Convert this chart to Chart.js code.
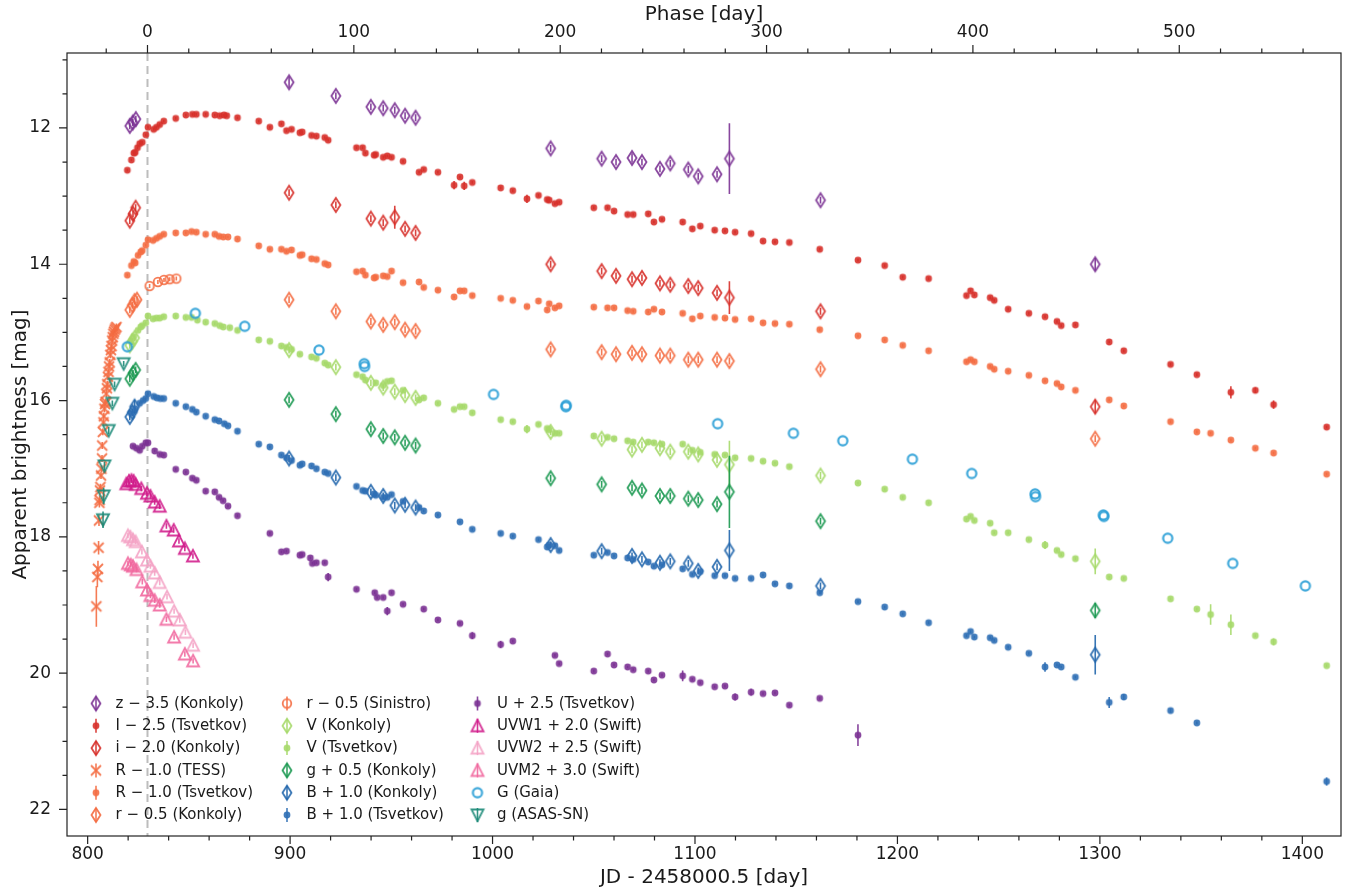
<!DOCTYPE html>
<html>
<head>
<meta charset="utf-8">
<title>Multi-band light curve</title>
<script src="https://cdn.jsdelivr.net/npm/chart.js@4.4.1/dist/chart.umd.min.js"></script>
<style>
  html, body { margin: 0; padding: 0; background: #fff; }
  #wrap { width: 1354px; height: 895px; }
</style>
</head>
<body>
<div id="wrap"><canvas id="lc" width="1354" height="895"></canvas></div>
<script>
// === Axes ===
const jdMin = 789.8, jdMax = 1419.1;
const magTop = 10.9, magBottom = 22.39;
const peakJD = 829.56;   // phase zero
const stretch = 1.0193;  // 1 + z, rest-frame phase
const jdTicks = [800, 900, 1000, 1100, 1200, 1300, 1400];
const phaseTicks = [0, 100, 200, 300, 400, 500];
const magTicks = [12, 14, 16, 18, 20, 22];

// === Photometry: [JD - 2458000.5, mag, error] ===
const zKonkoly = [[820.8,11.97],[822.3,11.92],[823.8,11.87],[899.5,11.33,0.08],[922.6,11.53],[939.9,11.69],[946.0,11.71],[951.7,11.74],[956.8,11.82],[962.0,11.85],[1028.7,12.30],[1053.9,12.45],[1061.0,12.50],[1068.9,12.44,0.07],[1073.8,12.50],[1082.7,12.60],[1087.8,12.52],[1096.7,12.61],[1101.6,12.71],[1110.9,12.68],[1117.0,12.45,0.52],[1162.0,13.06],[1297.7,14.00,0.09]];

const iTsvetkov = [[819.6,12.62],[821.6,12.47],[822.8,12.37],[823.5,12.36],[824.6,12.29],[825.7,12.23],[827.0,12.21],[828.7,12.10],[829.8,11.99],[832.6,12.02],[834.0,11.99],[835.6,11.95],[837.6,11.90],[843.5,11.86],[848.5,11.81],[851.7,11.80],[853.7,11.80],[858.3,11.80],[862.8,11.81],[865.2,11.82],[867.3,11.81],[868.7,11.82],[874.0,11.85],[884.5,11.90],[890.0,11.99],[895.7,11.94],[898.2,12.04],[900.7,12.02],[904.8,12.07],[906.0,12.06],[910.6,12.11],[913.0,12.12],[917.1,12.14],[918.8,12.18],[932.8,12.29],[935.8,12.29],[937.2,12.37],[941.5,12.40],[942.3,12.39],[946.0,12.43],[948.0,12.41],[950.1,12.43],[955.8,12.49],[963.7,12.65],[966.0,12.61],[973.0,12.65],[981.0,12.84,0.06],[983.9,12.72],[986.0,12.85,0.06],[990.0,12.80],[1004.0,12.88],[1010.0,12.92],[1017.0,13.04,0.06],[1022.7,12.99],[1027.0,13.05],[1028.0,13.06],[1030.8,13.11],[1032.9,13.09],[1050.0,13.17],[1056.8,13.17],[1060.0,13.22],[1066.7,13.27],[1069.5,13.27],[1076.9,13.26],[1079.7,13.38],[1083.7,13.34],[1093.9,13.38],[1098.7,13.48],[1102.6,13.44],[1109.7,13.50],[1114.8,13.51],[1119.8,13.53],[1127.7,13.55],[1133.6,13.66],[1139.5,13.67],[1146.6,13.68],[1161.6,13.78],[1180.5,13.94],[1193.7,14.02],[1202.6,14.19],[1215.4,14.21],[1234.1,14.46],[1236.1,14.39],[1238.0,14.45],[1245.8,14.49],[1247.8,14.53],[1254.7,14.66],[1264.9,14.72],[1272.9,14.77],[1278.8,14.84],[1280.9,14.90],[1287.9,14.89],[1304.6,15.14],[1311.8,15.27],[1334.9,15.47],[1347.9,15.62],[1364.7,15.88,0.09],[1376.8,15.85,0.04],[1385.8,16.06,0.06],[1412.0,16.39]];

const iKonkoly = [[820.8,13.36],[822.4,13.26],[823.7,13.17],[899.5,12.95],[922.6,13.13],[939.9,13.33],[946.0,13.39],[951.7,13.31,0.17],[956.8,13.48],[962.0,13.54],[1028.7,14.00],[1053.9,14.10],[1061.0,14.17],[1068.9,14.22],[1073.8,14.20],[1082.7,14.28],[1087.8,14.30],[1096.7,14.32],[1101.6,14.35],[1110.9,14.42],[1117.0,14.49,0.24],[1162.0,14.69],[1297.7,16.09,0.10]];

const rTess = [[804.3,19.02,0.30],[804.8,18.59,0.15],[805.1,18.47,0.12],[805.4,18.16,0.10],[805.6,17.76,0.08],[805.8,17.50,0.07],[805.9,17.46,0.07],[806.1,17.32,0.06],[806.3,17.27],[806.6,17.10],[806.8,17.00],[807.1,16.85],[807.2,16.66],[807.5,16.46],[807.8,16.32],[808.0,16.23],[808.3,16.12],[808.6,16.05],[808.9,16.02],[809.2,15.90],[809.5,15.82],[809.7,15.76],[810.0,15.65],[810.3,15.58],[810.6,15.50],[810.9,15.44],[811.2,15.33],[811.5,15.26],[811.8,15.20],[812.1,15.12],[812.4,15.07],[812.7,15.02],[813.0,14.99],[813.4,14.96],[813.8,14.94],[814.2,14.92]];

const rTsvetkov = [[819.6,14.16],[821.6,14.02],[822.8,13.96],[823.5,13.98],[824.9,13.87],[826.2,13.82],[827.0,13.80],[828.7,13.72],[829.8,13.64],[832.3,13.65],[834.0,13.62],[835.6,13.59],[837.6,13.56],[843.5,13.54],[848.5,13.54],[851.3,13.52],[853.7,13.53],[858.3,13.56],[862.8,13.56],[864.9,13.59],[867.0,13.60],[869.3,13.60],[874.0,13.63],[884.5,13.73],[890.0,13.78],[895.7,13.78],[898.2,13.81],[900.7,13.79],[904.8,13.87],[906.0,13.86],[910.6,13.92],[913.0,13.93],[917.1,13.99],[918.8,14.01],[932.8,14.11],[935.8,14.10],[937.2,14.16],[941.5,14.20],[942.3,14.19],[946.0,14.17],[948.0,14.18],[950.1,14.10],[955.8,14.27],[963.7,14.26],[966.0,14.34],[973.0,14.38],[981.0,14.48],[983.9,14.39],[986.0,14.39],[990.0,14.46],[1004.0,14.50],[1010.0,14.53],[1017.0,14.62],[1022.7,14.54],[1027.0,14.67],[1028.0,14.58],[1030.8,14.64],[1032.9,14.61],[1050.0,14.63],[1056.8,14.64],[1060.0,14.64],[1066.7,14.68],[1069.5,14.69],[1076.9,14.70],[1079.7,14.66],[1083.7,14.70],[1093.9,14.72],[1098.7,14.80],[1102.6,14.76],[1109.7,14.78],[1114.8,14.79],[1119.8,14.81],[1127.7,14.80],[1133.6,14.86],[1139.5,14.87],[1146.6,14.88],[1161.6,14.96],[1180.5,15.05],[1193.7,15.11],[1202.6,15.19],[1215.4,15.27],[1234.1,15.43],[1236.1,15.40],[1238.0,15.43],[1245.8,15.50],[1247.8,15.54],[1254.7,15.57],[1264.9,15.63],[1272.9,15.71],[1278.8,15.75],[1280.9,15.80],[1287.9,15.85],[1304.6,15.99],[1311.8,16.08],[1334.9,16.31],[1347.9,16.46],[1354.7,16.48],[1364.7,16.58],[1376.8,16.70],[1385.8,16.77],[1412.0,17.08]];

const rKonkoly = [[820.8,14.67],[822.1,14.60],[823.2,14.54],[824.4,14.52],[899.5,14.52],[922.6,14.69],[939.9,14.84],[946.0,14.89],[951.7,14.85],[956.8,14.96],[962.0,14.98],[1028.7,15.25],[1053.9,15.29],[1061.0,15.32],[1068.9,15.30],[1073.8,15.32],[1082.7,15.34],[1087.8,15.34],[1096.7,15.40],[1101.6,15.40],[1110.9,15.40],[1117.0,15.42],[1162.0,15.54],[1297.7,16.56]];

const rSinistro = [[830.6,14.32],[834.7,14.26],[837.7,14.23],[840.5,14.22],[843.8,14.21]];

const vKonkoly = [[820.8,15.19],[822.1,15.13],[823.2,15.08],[899.5,15.26],[922.6,15.51],[939.9,15.74],[946.0,15.81],[951.7,15.87],[956.8,15.92],[962.0,15.96],[1028.7,16.46],[1053.9,16.56],[1068.9,16.72],[1073.8,16.65],[1082.7,16.70],[1087.8,16.75],[1096.7,16.75],[1101.6,16.79],[1110.9,16.87],[1117.0,16.94,0.35],[1162.0,17.10],[1297.7,18.36,0.19]];

const vTsvetkov = [[821.6,15.13],[822.8,15.06],[824.9,14.97],[826.2,14.92],[827.0,14.90],[828.7,14.86],[829.8,14.76],[832.3,14.80],[834.0,14.79],[835.6,14.79],[837.6,14.77],[843.5,14.76],[848.5,14.78],[851.3,14.78],[854.2,14.82],[858.3,14.85],[862.8,14.87],[865.2,14.90],[867.0,14.92],[870.2,14.93],[874.0,14.97],[884.5,15.11],[890.0,15.13],[895.7,15.20],[898.2,15.22],[900.7,15.25],[904.8,15.32],[910.6,15.36],[913.0,15.38],[917.1,15.45],[918.8,15.48],[932.8,15.62],[935.8,15.65],[937.2,15.70],[942.3,15.74],[946.0,15.78],[948.0,15.72],[950.1,15.71],[955.8,15.85],[963.7,15.99],[966.0,15.96],[973.0,16.04],[981.0,16.13],[983.9,16.09],[986.0,16.09],[990.0,16.18],[1004.0,16.28],[1010.0,16.31],[1017.0,16.42,0.06],[1022.7,16.35],[1027.0,16.41],[1028.0,16.43],[1030.8,16.48],[1032.9,16.48],[1050.0,16.52],[1056.8,16.54],[1060.0,16.56],[1066.7,16.59],[1069.5,16.61],[1076.9,16.61],[1079.7,16.62],[1083.7,16.64],[1093.9,16.64],[1098.7,16.73],[1102.6,16.76],[1109.7,16.79],[1114.8,16.80],[1119.8,16.84],[1127.7,16.85],[1133.6,16.89],[1139.5,16.92],[1146.6,16.97],[1180.5,17.21],[1193.7,17.30],[1202.6,17.42],[1215.4,17.50],[1234.1,17.74],[1236.1,17.70],[1238.0,17.76],[1245.8,17.80],[1247.8,17.94],[1254.7,17.94],[1264.9,18.04],[1272.9,18.12,0.06],[1278.8,18.20],[1280.9,18.26],[1287.9,18.32],[1304.6,18.59],[1311.8,18.61],[1334.9,18.91],[1347.9,19.06],[1354.7,19.14,0.15],[1364.7,19.29,0.15],[1376.8,19.45],[1385.8,19.54,0.05],[1412.0,19.89]];

const gKonkoly = [[820.8,15.68],[822.4,15.60],[823.7,15.55],[899.5,15.99],[922.6,16.20],[939.9,16.42],[946.0,16.52],[951.7,16.54],[956.8,16.62],[962.0,16.66],[1028.7,17.14],[1053.9,17.23],[1068.9,17.28],[1073.8,17.32],[1082.7,17.40],[1087.8,17.40],[1096.7,17.44],[1101.6,17.46],[1110.9,17.52],[1117.0,17.34,0.53],[1162.0,17.77],[1297.7,19.08,0.11]];

const bKonkoly = [[820.8,16.24],[822.1,16.17],[823.2,16.09,0.10],[899.5,16.85],[922.6,17.13],[939.9,17.34],[946.0,17.40],[951.7,17.54],[956.8,17.53],[962.0,17.57],[1028.7,18.12],[1053.9,18.21],[1068.9,18.28],[1073.8,18.33],[1082.7,18.38],[1087.8,18.36],[1096.7,18.39],[1101.6,18.50],[1110.9,18.44],[1117.0,18.20,0.30],[1162.0,18.72],[1297.7,19.73,0.29]];

const bTsvetkov = [[821.6,16.19],[823.5,16.12],[825.7,16.04],[827.4,16.00],[828.7,15.97],[829.8,15.90],[832.6,15.94],[834.2,15.96],[835.9,15.97],[837.6,15.97],[843.5,16.04],[848.5,16.09],[851.7,16.13],[853.7,16.17],[858.3,16.23],[862.8,16.28],[864.9,16.30],[867.5,16.34],[869.3,16.37],[874.0,16.45],[884.5,16.64],[890.0,16.68],[895.7,16.80],[898.2,16.84],[900.7,16.88],[904.8,16.95],[906.0,16.93],[910.6,16.96],[913.0,17.00],[917.1,17.05],[918.8,17.07],[932.8,17.26],[935.8,17.32],[937.2,17.33],[941.5,17.37],[942.3,17.39],[946.0,17.42],[948.0,17.42],[950.1,17.38],[955.8,17.48],[963.7,17.57],[966.0,17.62],[973.0,17.68],[983.9,17.78],[990.0,17.89],[1004.0,17.95],[1010.0,17.99],[1022.7,18.04],[1027.0,18.15],[1028.0,18.12],[1030.8,18.13],[1032.9,18.20],[1050.0,18.27],[1056.8,18.23],[1060.0,18.28],[1066.7,18.31],[1069.5,18.33],[1076.9,18.37],[1079.7,18.43],[1083.7,18.41],[1093.9,18.47],[1098.7,18.55],[1102.6,18.51],[1109.7,18.57],[1114.8,18.57],[1119.8,18.61],[1127.7,18.61],[1133.6,18.56],[1139.5,18.69],[1146.6,18.72],[1161.6,18.82],[1180.5,18.95],[1193.7,19.03],[1202.6,19.13],[1215.4,19.26],[1234.1,19.45],[1236.1,19.39],[1238.0,19.47],[1245.8,19.48],[1247.8,19.52],[1254.7,19.62],[1264.9,19.71],[1272.9,19.91,0.07],[1278.8,19.88],[1280.9,19.91],[1287.9,20.06],[1304.6,20.43,0.08],[1311.8,20.35,0.04],[1334.9,20.55,0.03],[1347.9,20.73],[1412.0,21.59,0.06]];

const uTsvetkov = [[822.4,16.67],[824.1,16.70],[825.7,16.73],[827.0,16.67],[828.7,16.62],[829.8,16.62],[833.1,16.74],[835.6,16.79],[837.6,16.80],[843.5,17.01],[848.5,17.05],[851.7,17.14],[853.7,17.17],[858.3,17.33],[862.8,17.34],[864.9,17.42],[866.9,17.47],[869.3,17.55],[874.0,17.69],[890.0,17.95],[895.7,18.22],[898.2,18.21],[904.8,18.27],[906.0,18.26],[910.0,18.31],[911.0,18.39],[913.0,18.38],[917.1,18.38],[918.8,18.59,0.06],[932.8,18.77],[941.8,18.82],[943.0,18.89],[946.0,18.89],[948.0,19.09,0.06],[950.1,18.82],[955.8,18.99],[966.0,19.06],[973.0,19.22],[983.9,19.27],[990.0,19.45,0.05],[1004.0,19.58,0.05],[1010.0,19.53],[1030.8,19.74],[1032.9,19.86],[1050.0,19.97],[1056.8,19.72],[1060.0,19.88],[1066.7,19.91],[1069.5,19.95],[1076.9,19.97],[1079.7,20.10],[1083.7,20.03],[1093.9,20.04,0.08],[1098.7,20.09],[1102.6,20.14],[1109.7,20.20],[1114.8,20.19],[1119.8,20.35,0.05],[1127.7,20.28,0.05],[1133.6,20.30],[1139.5,20.29],[1146.6,20.47],[1161.6,20.37],[1180.5,20.91,0.16]];

const uvw1Swift = [[819.1,17.22],[820.4,17.18],[821.6,17.17],[822.7,17.18],[823.7,17.23],[826.5,17.29],[829.3,17.36],[831.0,17.40],[833.1,17.49],[835.6,17.55],[838.9,17.84],[842.5,17.90],[845.1,18.06],[848.0,18.17],[852.0,18.28]];
const uvw2Swift = [[819.9,17.98],[821.1,18.00],[822.4,18.04],[823.7,18.07],[826.8,18.22],[829.3,18.34],[831.0,18.43],[833.1,18.53],[835.6,18.67],[839.2,18.88],[842.7,19.09],[845.5,19.22],[848.3,19.40],[852.1,19.59]];
const uvm2Swift = [[819.9,18.39],[821.3,18.41],[822.4,18.43],[824.1,18.48],[827.0,18.66],[829.3,18.78],[831.0,18.86],[833.1,18.93],[835.6,19.00],[838.9,19.21],[842.7,19.47],[848.0,19.72],[852.1,19.82]];

const gGaia = [[819.6,15.21],[853.2,14.72],[877.6,14.91],[914.3,15.26],[936.6,15.46],[936.8,15.50],[1000.5,15.91],[1036.2,16.09],[1036.4,16.07],[1111.2,16.34],[1148.6,16.48],[1173.0,16.59],[1207.4,16.86],[1236.7,17.07],[1268.0,17.37],[1268.2,17.41],[1301.7,17.68],[1302.0,17.70],[1333.5,18.02],[1365.6,18.39],[1401.5,18.72]];

const gAsassn = [[807.6,17.75,0.12],[807.9,17.40,0.12],[808.3,16.96,0.06],[810.4,16.44,0.05],[812.2,16.04,0.04],[813.3,15.76,0.04],[817.8,15.46,0.04]];

// === Series styling ===
const series = [
  { label: "z \u2212 3.5 (Konkoly)",   data: zKonkoly,  color: "#7b3294", shape: "diamond", err: 0.05 },
  { label: "I \u2212 2.5 (Tsvetkov)",  data: iTsvetkov, color: "#d7302a", shape: "dot",     err: 0.02 },
  { label: "i \u2212 2.0 (Konkoly)",   data: iKonkoly,  color: "#d7302a", shape: "diamond", err: 0.05 },
  { label: "R \u2212 1.0 (TESS)",      data: rTess,     color: "#f46d43", shape: "cross",   err: 0.05 },
  { label: "R \u2212 1.0 (Tsvetkov)",  data: rTsvetkov, color: "#f46d43", shape: "dot",     err: 0.02 },
  { label: "r \u2212 0.5 (Konkoly)",   data: rKonkoly,  color: "#f46d43", shape: "diamond", err: 0.05 },
  { label: "r \u2212 0.5 (Sinistro)",  data: rSinistro, color: "#f46d43", shape: "ring",    err: 0.03 },
  { label: "V (Konkoly)",              data: vKonkoly,  color: "#a6d96a", shape: "diamond", err: 0.05 },
  { label: "V (Tsvetkov)",             data: vTsvetkov, color: "#a6d96a", shape: "dot",     err: 0.02 },
  { label: "g + 0.5 (Konkoly)",        data: gKonkoly,  color: "#1a9850", shape: "diamond", err: 0.05 },
  { label: "B + 1.0 (Konkoly)",        data: bKonkoly,  color: "#2166ac", shape: "diamond", err: 0.05 },
  { label: "B + 1.0 (Tsvetkov)",       data: bTsvetkov, color: "#2f6fb5", shape: "dot",     err: 0.02 },
  { label: "U + 2.5 (Tsvetkov)",       data: uTsvetkov, color: "#7b3294", shape: "dot",     err: 0.02 },
  { label: "UVW1 + 2.0 (Swift)",       data: uvw1Swift, color: "#d01c8b", shape: "triUp",   err: 0.04 },
  { label: "UVW2 + 2.5 (Swift)",       data: uvw2Swift, color: "#f4a3c5", shape: "triUp",   err: 0.04 },
  { label: "UVM2 + 3.0 (Swift)",       data: uvm2Swift, color: "#f1689f", shape: "triUp",   err: 0.04 },
  { label: "G (Gaia)",                 data: gGaia,     color: "#2a9fd6", shape: "gaia",    err: 0 },
  { label: "g (ASAS-SN)",              data: gAsassn,   color: "#1b8a78", shape: "triDown", err: 0.04 }
];

const FONT = "DejaVu Sans";
const INK = "#1a1a1a";

// === Marker images ===
function makeMarker(shape, color) {
  const c = document.createElement("canvas");
  c.width = 22; c.height = 22;
  const g = c.getContext("2d");
  const m = 11;
  g.globalAlpha = 0.9;
  g.strokeStyle = color;
  g.fillStyle = color;
  g.lineWidth = 1.8;
  g.lineJoin = "miter";
  g.beginPath();
  if (shape === "diamond") {
    g.moveTo(m, m - 7); g.lineTo(m + 4.5, m); g.lineTo(m, m + 7); g.lineTo(m - 4.5, m); g.closePath(); g.stroke();
  } else if (shape === "dot") {
    g.arc(m, m, 3.4, 0, Math.PI * 2); g.fill();
  } else if (shape === "ring") {
    g.arc(m, m, 4.3, 0, Math.PI * 2); g.stroke();
  } else if (shape === "gaia") {
    g.lineWidth = 2.2; g.arc(m, m, 4.6, 0, Math.PI * 2); g.stroke();
  } else if (shape === "cross") {
    g.moveTo(m - 5, m - 5); g.lineTo(m + 5, m + 5); g.moveTo(m + 5, m - 5); g.lineTo(m - 5, m + 5); g.stroke();
  } else if (shape === "triUp") {
    g.moveTo(m, m - 6); g.lineTo(m + 6, m + 5.5); g.lineTo(m - 6, m + 5.5); g.closePath(); g.stroke();
  } else if (shape === "triDown") {
    g.moveTo(m, m + 6); g.lineTo(m + 6, m - 5.5); g.lineTo(m - 6, m - 5.5); g.closePath(); g.stroke();
  }
  return c;
}

// === Plugins ===
const errorBars = {
  id: "errorBars",
  beforeDatasetDraw(chart, args) {
    const ds = chart.data.datasets[args.index];
    const xs = chart.scales.x, ys = chart.scales.y;
    const ctx = chart.ctx;
    ctx.save();
    ctx.strokeStyle = ds.barColor;
    ctx.globalAlpha = 0.9;
    ctx.lineWidth = 1.6;
    ctx.beginPath();
    ds.data.forEach(p => {
      if (!p.e) return;
      const x = xs.getPixelForValue(p.x);
      ctx.moveTo(x, ys.getPixelForValue(p.y - p.e));
      ctx.lineTo(x, ys.getPixelForValue(p.y + p.e));
    });
    ctx.stroke();
    ctx.restore();
  }
};

const frame = {
  id: "frame",
  beforeDatasetsDraw(chart) {
    // dashed line at phase zero
    const { ctx, chartArea: a } = chart;
    const x = chart.scales.x.getPixelForValue(peakJD);
    ctx.save();
    ctx.strokeStyle = "#bdbdbd";
    ctx.lineWidth = 2;
    ctx.setLineDash([8, 5]);
    ctx.beginPath();
    ctx.moveTo(x, a.top); ctx.lineTo(x, a.bottom);
    ctx.stroke();
    ctx.restore();
  },
  afterDraw(chart) {
    const { ctx, chartArea: a, scales } = chart;
    ctx.save();
    ctx.strokeStyle = "#222";
    ctx.lineWidth = 1.2;
    ctx.strokeRect(a.left, a.top, a.right - a.left, a.bottom - a.top);
    ctx.beginPath();
    for (let v = 800; v <= 1400; v += 20) {
      const x = scales.x.getPixelForValue(v);
      ctx.moveTo(x, a.bottom); ctx.lineTo(x, a.bottom + (v % 100 === 0 ? 8 : 4.5));
    }
    for (let v = -20; v <= 560; v += 20) {
      const x = scales.x2.getPixelForValue(v);
      ctx.moveTo(x, a.top); ctx.lineTo(x, a.top - (v % 100 === 0 ? 8 : 4.5));
    }
    for (let v = 11; v <= 22; v += 0.5) {
      const y = scales.y.getPixelForValue(v);
      ctx.moveTo(a.left, y); ctx.lineTo(a.left - (v % 2 === 0 ? 8 : 4.5), y);
    }
    ctx.stroke();
    ctx.restore();
  }
};

const legendCols = [96, 287, 477.5];
const legendTop = 703.5, legendStep = 22.3;

const panelLegend = {
  id: "panelLegend",
  afterDraw(chart) {
    const ctx = chart.ctx;
    ctx.save();
    ctx.font = "15px '" + FONT + "'";
    ctx.textBaseline = "middle";
    chart.data.datasets.forEach((ds, i) => {
      const mx = legendCols[Math.floor(i / 6)];
      const y = legendTop + (i % 6) * legendStep;
      if (ds.withBar) {
        ctx.save();
        ctx.strokeStyle = ds.barColor;
        ctx.globalAlpha = 0.9;
        ctx.lineWidth = 1.6;
        ctx.beginPath();
        ctx.moveTo(mx, y - 7); ctx.lineTo(mx, y + 7);
        ctx.stroke();
        ctx.restore();
      }
      ctx.drawImage(ds.pointStyle, mx - 11, y - 11);
      ctx.fillStyle = INK;
      ctx.fillText(ds.label, mx + 19.5, y + 0.5);
    });
    ctx.restore();
  }
};

// === Chart ===
const datasets = series.map((s, i) => ({
  label: s.label,
  data: s.data.map(p => ({ x: p[0], y: p[1], e: p.length > 2 ? p[2] : s.err })),
  pointStyle: makeMarker(s.shape, s.color),
  pointRadius: 5,
  barColor: s.color,
  withBar: s.err > 0,
  showLine: false,
  order: -i,
  xAxisID: "x",
  yAxisID: "y"
}));

const tickFont = { family: FONT, size: 17 };
const titleFont = { family: FONT, size: 20 };
const noGrid = { display: false, drawTicks: false };

new Chart(document.getElementById("lc"), {
  type: "scatter",
  data: { datasets },
  options: {
    responsive: false,
    animation: false,
    events: [],
    layout: { padding: { left: 0, right: 13, top: 0, bottom: 0 } },
    plugins: { legend: { display: false }, tooltip: { enabled: false } },
    scales: {
      x: {
        type: "linear", position: "bottom", min: jdMin, max: jdMax,
        afterBuildTicks: s => { s.ticks = jdTicks.map(v => ({ value: v })); },
        afterFit: s => { s.height = 59; },
        grid: noGrid, border: { display: false },
        ticks: { padding: 8, color: INK, font: tickFont, maxRotation: 0, autoSkip: false, callback: v => String(v) },
        title: { display: true, text: "JD - 2458000.5 [day]", color: INK, font: titleFont, padding: { top: 0, bottom: 5 } }
      },
      x2: {
        type: "linear", position: "top",
        min: (jdMin - peakJD) / stretch, max: (jdMax - peakJD) / stretch,
        afterBuildTicks: s => { s.ticks = phaseTicks.map(v => ({ value: v })); },
        afterFit: s => { s.height = 53; },
        grid: noGrid, border: { display: false },
        ticks: { padding: 10, color: INK, font: tickFont, maxRotation: 0, autoSkip: false, callback: v => String(v) },
        title: { display: true, text: "Phase [day]", color: INK, font: titleFont, padding: { top: 3, bottom: 0 } }
      },
      y: {
        type: "linear", reverse: true, min: magTop, max: magBottom,
        afterBuildTicks: s => { s.ticks = magTicks.map(v => ({ value: v })); },
        afterFit: s => { s.width = 67; },
        grid: noGrid, border: { display: false },
        ticks: { padding: 16, color: INK, font: tickFont, autoSkip: false, callback: v => String(v) },
        title: { display: true, text: "Apparent brightness [mag]", color: INK, font: titleFont, padding: { top: 9, bottom: 0 } }
      }
    }
  },
  plugins: [errorBars, frame, panelLegend]
});
</script>
</body>
</html>
